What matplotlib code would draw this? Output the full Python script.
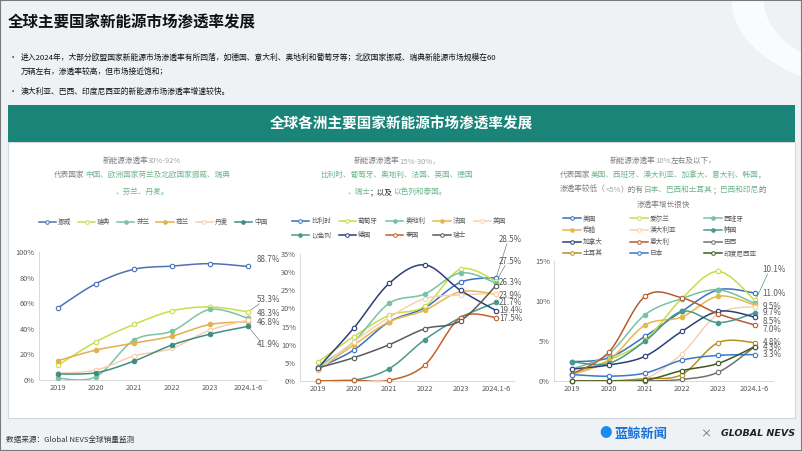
import numpy as np
import matplotlib
matplotlib.use("Agg")
import matplotlib.pyplot as plt
from matplotlib.lines import Line2D
from matplotlib.patches import Rectangle, Wedge

plt.rcParams['font.family'] = ['Noto Sans CJK SC', 'DejaVu Sans']

W, H = 802, 451

# ---- data -------------------------------------------------------------
years = ['2019', '2020', '2021', '2022', '2023', '2024.1-6']

c1_names = ['挪威', '瑞典', '芬兰', '荷兰', '丹麦', '中国']
c1_vals = [
    [56.4, 75.3, 86.5, 89.0, 90.9, 88.7],
    [11.5, 29.9, 43.4, 54.0, 57.1, 53.3],
    [1.3, 2.6, 31.2, 38.2, 55.1, 48.3],
    [15.1, 23.4, 28.8, 34.3, 43.4, 45.5],
    [5.2, 7.8, 18.7, 24.7, 39.0, 46.8],
    [4.7, 5.7, 14.8, 27.3, 35.8, 41.9],
]
c1_colors = ['#4a72b8', '#cbdc4c', '#7cc4a0', '#e2b04c', '#f8cfae', '#3e8e86']
c1_filled = [False, False, True, True, False, True]
c1_labels = ['88.7%', '53.3%', '48.3%', None, '46.8%', '41.9%']

c2_names = ['比利时', '葡萄牙', '奥地利', '法国', '英国', '以色列', '德国', '泰国', '瑞士']
c2_vals = [
    [3.6, 8.5, 16.3, 20.2, 27.2, 28.5],
    [5.2, 12.2, 18.1, 20.6, 30.8, 27.5],
    [3.9, 10.8, 21.4, 24.0, 29.8, 27.0],
    [3.0, 9.9, 16.3, 19.5, 24.6, 23.9],
    [2.9, 10.8, 17.5, 22.7, 23.7, 24.1],
    [0.0, 0.2, 3.4, 11.4, 17.5, 21.7],
    [3.6, 14.5, 26.9, 32.0, 25.0, 19.4],
    [0.0, 0.2, 0.2, 4.4, 17.5, 17.5],
    [3.6, 6.4, 10.0, 14.4, 16.6, 26.3],
]
c2_colors = ['#3b6fc2', '#c8dc4a', '#78c2a2', '#e6b84a', '#f8d2b0',
             '#4a9a8c', '#2c3e7a', '#c0622a', '#5a5a5a']
c2_filled = [False, False, True, True, False, True, False, False, False]
c2_labels = ['28.5%', '27.5%', None, '23.9%', None, '21.7%', '19.4%', '17.5%', '26.3%']

c3_names = ['美国', '爱尔兰', '西班牙', '希腊', '澳大利亚', '韩国',
            '加拿大', '意大利', '巴西', '土耳其', '日本', '印度尼西亚']
c3_vals = [
    [2.4, 2.9, 5.6, 8.7, 11.4, 11.0],
    [0.9, 2.6, 5.1, 10.3, 13.7, 10.1],
    [1.5, 3.4, 8.3, 10.3, 11.4, 9.7],
    [0.8, 2.6, 7.0, 8.0, 10.6, 9.5],
    [0.0, 0.0, 0.3, 3.4, 8.4, 9.3],
    [2.4, 2.2, 5.0, 8.7, 7.3, 8.5],
    [1.5, 2.0, 3.1, 6.2, 8.7, 8.0],
    [0.9, 3.6, 10.6, 10.4, 8.4, 7.0],
    [0.0, 0.0, 0.0, 0.2, 1.1, 4.3],
    [0.0, 0.0, 0.3, 0.8, 4.8, 4.8],
    [0.8, 0.6, 1.0, 2.6, 3.2, 3.3],
    [0.0, 0.0, 0.1, 1.3, 2.2, 4.3],
]
c3_colors = ['#3b6fc2', '#c8dc4a', '#78c2a2', '#e6b84a', '#f8d2b0', '#4a9a8c',
             '#2c3e7a', '#b85a30', '#707070', '#b8901e', '#3a78c8', '#3c5a1e']
c3_filled = [False, False, True, True, False, True,
             False, False, False, False, False, False]
c3_labels = ['11.0%', '10.1%', '9.7%', '9.5%', None, '8.5%',
             None, '7.0%', '4.3%', '4.8%', '3.3%', None]


def fx(x):
    return x / W


def fy(y):
    return 1 - y / H


def smooth(x, y, n=24):
    # catmull-rom through the points (like excel smoothed lines)
    pts = np.column_stack([x, y]).astype(float)
    p = np.vstack([pts[0], pts, pts[-1]])
    t = np.linspace(0, 1, n)[:, None]
    segs = []
    for i in range(len(pts) - 1):
        p0, p1, p2, p3 = p[i], p[i + 1], p[i + 2], p[i + 3]
        segs.append(0.5 * (2 * p1 + (-p0 + p2) * t + (2 * p0 - 5 * p1 + 4 * p2 - p3) * t ** 2
                           + (-p0 + 3 * p1 - 3 * p2 + p3) * t ** 3))
    s = np.vstack(segs)
    return s[:, 0], s[:, 1]


def rich_line(fig, xc, y, segs, size):
    # segs: list of (text, colour); drawn centred on xc (pixels)
    r = fig.canvas.get_renderer()
    texts = []
    for s, c in segs:
        t = fig.text(0, fy(y), s, color=c, fontsize=size, va='center', ha='left')
        texts.append(t)
    widths = [t.get_window_extent(r).width for t in texts]
    x = xc - sum(widths) / 2
    for t, w in zip(texts, widths):
        t.set_x(fx(x))
        x += w


def line_chart(box, vals, names, colors, filled, ymax, ystep):
    left, right, top, bottom = box
    ax = fig.add_axes([fx(left), fy(bottom), fx(right - left), (bottom - top) / H])
    ax.set_facecolor('none')
    xs = np.arange(len(years))
    handles = []
    for v, n, c, f in zip(vals, names, colors, filled):
        sx, sy = smooth(xs, v)
        ax.plot(sx, sy, color=c, lw=1.1, zorder=2, clip_on=False)
        ax.plot(xs, v, 'o', ms=3.2, mec=c, mfc=c if f else 'white', mew=0.8, zorder=3, clip_on=False)
        handles.append(Line2D([], [], color=c, lw=1.1, marker='o', ms=2.6,
                              mec=c, mfc=c if f else 'white', mew=0.7))
    ax.set_xlim(-0.5, len(years) - 0.5)
    ax.set_ylim(0, ymax)
    ax.set_xticks(xs)
    ax.set_xticklabels(years)
    yt = np.arange(0, ymax + 0.01, ystep)
    ax.set_yticks(yt)
    ax.set_yticklabels(['%d%%' % v for v in yt])
    ax.tick_params(length=0, labelsize=5.3, colors='#595959', pad=3)
    for s in ['top', 'right']:
        ax.spines[s].set_visible(False)
    ax.spines['left'].set_color('#d9d9d9')
    ax.spines['bottom'].set_color('#d9d9d9')
    ax.spines['left'].set_linewidth(0.7)
    ax.spines['bottom'].set_linewidth(0.7)
    return ax, handles


def row_major(items, ncol):
    nrow = int(np.ceil(len(items) / ncol))
    out = []
    for c in range(ncol):
        for r in range(nrow):
            i = r * ncol + c
            if i < len(items):
                out.append(items[i])
    return out


fig = plt.figure(figsize=(W / 100, H / 100), dpi=100)
fig.patch.set_facecolor('#eef2f5')

# background decorations
fig.patches.append(Wedge((fx(900), fy(0)), 0.21, 180, 285, width=0.04,
                         transform=fig.transFigure, facecolor='white', alpha=0.75,
                         edgecolor='none', zorder=-10))
fig.patches.append(Rectangle((0, 0), 1, 1, transform=fig.transFigure, fill=False,
                             edgecolor='#7a7a7a', lw=1.5, zorder=-10))

# header text
fig.text(fx(8), fy(22), '全球主要国家新能源市场渗透率发展', fontsize=11.2, fontweight='bold',
         color='#111111', va='center')
fig.text(fx(9), fy(58), '•', fontsize=6, color='#333333', va='center')
fig.text(fx(21), fy(58), '进入2024年，大部分欧盟国家新能源市场渗透率有所回落，如德国、意大利、奥地利和葡萄牙等；'
         '北欧国家挪威、瑞典新能源市场规模在60', fontsize=5.6, color='#111111', va='center')
fig.text(fx(21), fy(72), '万辆左右，渗透率较高，但市场接近饱和；', fontsize=5.6, color='#111111', va='center')
fig.text(fx(9), fy(92), '•', fontsize=6, color='#333333', va='center')
fig.text(fx(21), fy(92), '澳大利亚、巴西、印度尼西亚的新能源市场渗透率增速较快。', fontsize=5.6,
         color='#111111', va='center')

# banner + white panel
fig.patches.append(Rectangle((fx(8), fy(418)), fx(787), (418 - 142) / H, transform=fig.transFigure,
                             facecolor='white', edgecolor='#d5d9dc', lw=0.8, zorder=-5))
fig.patches.append(Rectangle((fx(8), fy(142)), fx(787), 37 / H, transform=fig.transFigure,
                             facecolor='#1a8479', edgecolor='none', zorder=-4))
fig.text(fx(401), fy(124), '全球各洲主要国家新能源市场渗透率发展', fontsize=10.5, fontweight='bold',
         color='white', ha='center', va='center')

gray = '#7f7f7f'
green = '#6cb58c'
lite = '#a6a6a6'
fig.canvas.draw()

# notes above each chart
rich_line(fig, 142, 161, [('新能源渗透率', gray), ('30%-92%', lite)], 5.5)
rich_line(fig, 142, 175, [('代表国家', gray), ('中国、欧洲国家荷兰及北欧国家挪威、瑞典', green)], 5.5)
rich_line(fig, 142, 192, [('、芬兰、丹麦。', green)], 5.5)

rich_line(fig, 397, 161, [('新能源渗透率', gray), ('15%-30%，', lite)], 5.5)
rich_line(fig, 397, 175, [('比利时、葡萄牙、奥地利、法国、英国、德国', green)], 5.5)
rich_line(fig, 397, 192, [('、瑞士', green), ('；以及', '#222222'), ('以色列和泰国。', green)], 5.5)

rich_line(fig, 663, 161, [('新能源渗透率', gray), ('10%', lite), ('左右及以下，', gray)], 5.5)
rich_line(fig, 663, 175, [('代表国家', gray), ('美国、西班牙、澳大利亚、加拿大、意大利、韩国', green), ('，', gray)], 5.5)
rich_line(fig, 663, 190, [('渗透率较低（', gray), ('<5%', lite), ('）的有', gray), ('日本、巴西和土耳其', green),
                          ('；', gray), ('巴西和印尼', green), ('的', gray)], 5.5)
rich_line(fig, 663, 205, [('渗透率增长很快', gray)], 5.5)

leg_kw = dict(frameon=False, fontsize=4.8, labelcolor='#595959', handlelength=2.6,
              handletextpad=0.3, borderaxespad=0, borderpad=0)

# chart 1
ax1, h1 = line_chart((39, 267, 252, 380), c1_vals, c1_names, c1_colors, c1_filled, 100, 20)
fig.legend(h1, c1_names, loc='center', bbox_to_anchor=(fx(153), fy(222)), ncol=6,
           columnspacing=1.0, **leg_kw)
lab1 = [(94.5, None), (62.5, 53.3), (52.3, None), None, (45.3, None), (28.0, 41.9)]
for v, l, pos in zip(c1_vals, c1_labels, lab1):
    if l is None:
        continue
    ax1.text(5.22, pos[0], l, fontsize=5.8, color='#595959', va='center', clip_on=False)
    if pos[1] is not None:
        ax1.plot([5.0, 5.3], [pos[1], pos[0] + (-3 if pos[0] > pos[1] else 3)],
                 color='#7f7f7f', lw=0.5, clip_on=False)

# chart 2
ax2, h2 = line_chart((300, 514, 254, 381), c2_vals, c2_names, c2_colors, c2_filled, 35, 5)
fig.legend(row_major(h2, 5), row_major(c2_names, 5), loc='center', bbox_to_anchor=(fx(399), fy(228)),
           ncol=5, columnspacing=1.2, labelspacing=0.9, **leg_kw)
lab2 = [(39.1, 28.5), (32.9, None), None, (23.6, None), None, (21.6, None), (19.3, None), (17.3, None), (27.2, None)]
for v, l, pos in zip(c2_vals, c2_labels, lab2):
    if l is None:
        continue
    ax2.text(5.08, pos[0], l, fontsize=5.8, color='#595959', va='center', clip_on=False)
    if pos[1] is not None:
        ax2.plot([5.0, 5.3], [pos[1], pos[0] - 1.3], color='#7f7f7f', lw=0.5, clip_on=False)
# leader for 27.5%
ax2.plot([5.0, 5.25], [27.5, 31.8], color='#7f7f7f', lw=0.5, clip_on=False)

# chart 3
ax3, h3 = line_chart((554, 773, 261, 381), c3_vals, c3_names, c3_colors, c3_filled, 15, 5)
fig.legend(row_major(h3, 3), row_major(c3_names, 3), loc='center', bbox_to_anchor=(fx(660), fy(236)),
           ncol=3, columnspacing=4.2, labelspacing=0.55, **leg_kw)
lab3 = [(10.95, None), (13.96, 9.9), (8.57, None), (9.27, None), None, (7.48, None),
        None, (6.44, None), (4.19, None), (4.85, None), (3.26, None), None]
for v, l, pos in zip(c3_vals, c3_labels, lab3):
    if l is None:
        continue
    ax3.text(5.22, pos[0], l, fontsize=5.8, color='#595959', va='center', clip_on=False)
    if pos[1] is not None:
        ax3.plot([5.0, 5.35], [pos[1], pos[0] - 0.6], color='#4a9a8c', lw=0.5, clip_on=False)

# footer
fig.text(fx(6), fy(440), '数据来源：Global NEVS全球销量监测', fontsize=5.5, color='#333333', va='center')
fig.text(fx(606), fy(433), '●', fontsize=9, color='#1a8cf0', va='center', ha='center')
fig.text(fx(614), fy(434), '蓝鲸新闻', fontsize=9.5, color='#1a73d8', va='center', fontweight='bold')
fig.text(fx(706), fy(434), '×', fontsize=8, color='#666666', va='center', ha='center')
fig.text(fx(795), fy(434), 'GLOBAL NEVS', fontsize=6.8, color='#222222', va='center', ha='right',
         fontweight='bold', style='italic', family='DejaVu Sans')

fig.savefig('out.png', dpi=100, facecolor=fig.get_facecolor())
